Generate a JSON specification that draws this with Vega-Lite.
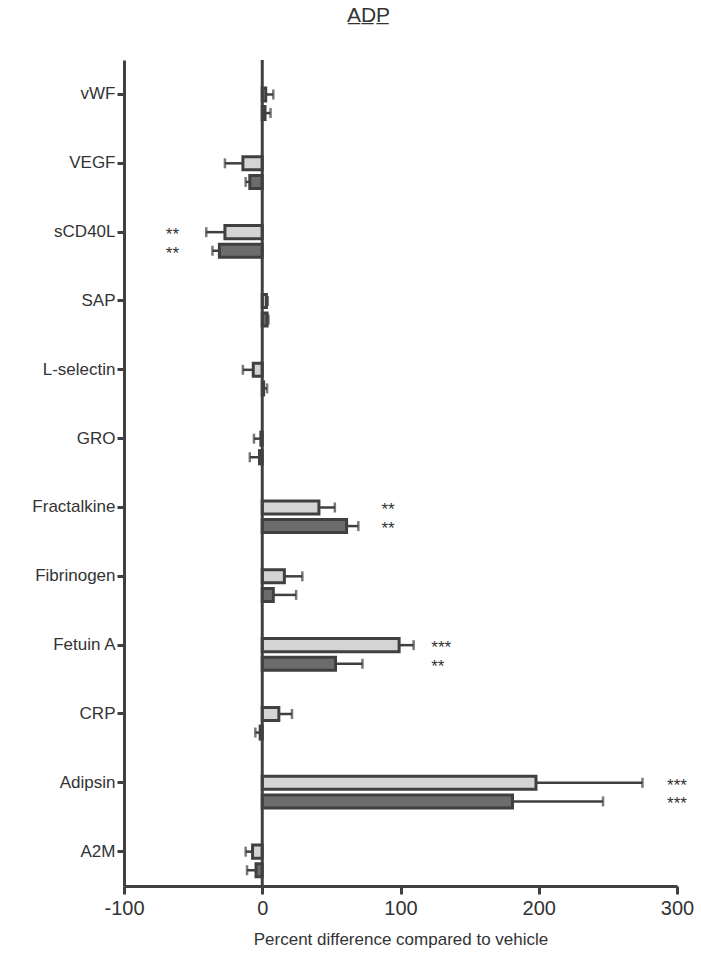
{
  "$schema": "https://vega.github.io/schema/vega-lite/v6.json",
  "width": 553,
  "height": 826,
  "autosize": {"type": "none"},
  "padding": {"left": 124, "top": 60, "right": 24, "bottom": 77},
  "title": {"text": "A̲D̲P̲", "fontSize": 21, "font": "Liberation Sans", "fontWeight": "normal", "color": "#333333", "dx": -32, "offset": 33},
  "config": {"view": {"stroke": null}, "font": "Liberation Sans"},
  "data": {"values": [
    {"marker": "vWF", "group": "light", "value": 2.5, "cap": 8},
    {"marker": "vWF", "group": "dark", "value": 2, "cap": 6},
    {"marker": "VEGF", "group": "light", "value": -14, "cap": -27},
    {"marker": "VEGF", "group": "dark", "value": -9, "cap": -12},
    {"marker": "sCD40L", "group": "light", "value": -27, "cap": -40.5, "stars": "**", "star_at": -65},
    {"marker": "sCD40L", "group": "dark", "value": -31, "cap": -36, "stars": "**", "star_at": -65},
    {"marker": "SAP", "group": "light", "value": 3, "cap": 4},
    {"marker": "SAP", "group": "dark", "value": 3.5, "cap": 4.5},
    {"marker": "L-selectin", "group": "light", "value": -6.5, "cap": -14},
    {"marker": "L-selectin", "group": "dark", "value": 1, "cap": 3.5},
    {"marker": "GRO", "group": "light", "value": -1, "cap": -6},
    {"marker": "GRO", "group": "dark", "value": -2, "cap": -9},
    {"marker": "Fractalkine", "group": "light", "value": 41, "cap": 52.5, "stars": "**", "star_at": 91},
    {"marker": "Fractalkine", "group": "dark", "value": 61, "cap": 69.5, "stars": "**", "star_at": 91},
    {"marker": "Fibrinogen", "group": "light", "value": 16, "cap": 29},
    {"marker": "Fibrinogen", "group": "dark", "value": 8, "cap": 24.5},
    {"marker": "Fetuin A", "group": "light", "value": 99, "cap": 109.5, "stars": "***", "star_at": 129.5},
    {"marker": "Fetuin A", "group": "dark", "value": 53, "cap": 72.5, "stars": "**", "star_at": 127},
    {"marker": "CRP", "group": "light", "value": 12, "cap": 21.5},
    {"marker": "CRP", "group": "dark", "value": -1.5, "cap": -5},
    {"marker": "Adipsin", "group": "light", "value": 198, "cap": 275, "stars": "***", "star_at": 300},
    {"marker": "Adipsin", "group": "dark", "value": 181, "cap": 246.5, "stars": "***", "star_at": 300},
    {"marker": "A2M", "group": "light", "value": -7, "cap": -12},
    {"marker": "A2M", "group": "dark", "value": -4.5, "cap": -11}
  ]},
  "layer": [
    {
      "mark": {"type": "bar", "stroke": "#404040", "strokeWidth": 3},
      "encoding": {
        "y": {"field": "marker", "type": "nominal", "sort": ["vWF","VEGF","sCD40L","SAP","L-selectin","GRO","Fractalkine","Fibrinogen","Fetuin A","CRP","Adipsin","A2M"],
              "scale": {"domain": ["vWF","VEGF","sCD40L","SAP","L-selectin","GRO","Fractalkine","Fibrinogen","Fetuin A","CRP","Adipsin","A2M"], "paddingInner": 0, "paddingOuter": 0},
              "axis": {"title": null, "domainColor": "#404040", "domainWidth": 3, "tickColor": "#404040", "tickWidth": 3, "tickSize": 7, "labelFontSize": 17, "labelColor": "#333333", "labelPadding": 2, "labelFont": "Liberation Sans"}},
        "yOffset": {"field": "group", "type": "nominal", "sort": ["light", "dark"], "scale": {"domain": ["light", "dark"], "paddingInner": 0.297, "paddingOuter": 1.0065, "align": 0.752}},
        "x": {"field": "value", "type": "quantitative",
              "scale": {"domain": [-100, 300], "nice": false},
              "axis": {"values": [-100, 0, 100, 200, 300], "labelExpr": "replace(datum.label, '−', '-')", "title": "Percent difference compared to vehicle", "titleFontSize": 17, "titleFontWeight": "normal", "titleColor": "#333333", "titlePadding": 13, "labelFontSize": 20, "labelColor": "#333333", "labelPadding": 4, "domainColor": "#404040", "domainWidth": 3, "tickColor": "#404040", "tickWidth": 3, "tickSize": 8, "grid": false, "labelFlush": false, "labelFont": "Liberation Sans", "titleFont": "Liberation Sans"}},
        "color": {"field": "group", "type": "nominal", "scale": {"domain": ["light", "dark"], "range": ["#d4d4d4", "#6c6c6c"]}, "legend": null}
      }
    },
    {
      "mark": {"type": "rule", "color": "#404040", "strokeWidth": 2.5},
      "encoding": {
        "y": {"field": "marker", "type": "nominal"},
        "yOffset": {"field": "group", "type": "nominal"},
        "x": {"field": "value", "type": "quantitative"},
        "x2": {"field": "cap"}
      }
    },
    {
      "mark": {"type": "tick", "color": "#404040", "thickness": 2.5, "size": 10},
      "encoding": {
        "y": {"field": "marker", "type": "nominal"},
        "yOffset": {"field": "group", "type": "nominal"},
        "x": {"field": "cap", "type": "quantitative"}
      }
    },
    {
      "transform": [{"filter": "datum.stars"}],
      "mark": {"type": "text", "fontSize": 17, "color": "#333333", "baseline": "middle", "dy": 3, "font": "Liberation Sans"},
      "encoding": {
        "y": {"field": "marker", "type": "nominal"},
        "yOffset": {"field": "group", "type": "nominal"},
        "x": {"field": "star_at", "type": "quantitative"},
        "text": {"field": "stars"}
      }
    },
    {
      "data": {"values": [{}]},
      "mark": {"type": "rule", "color": "#404040", "strokeWidth": 3},
      "encoding": {"x": {"datum": 0}}
    }
  ]
}
